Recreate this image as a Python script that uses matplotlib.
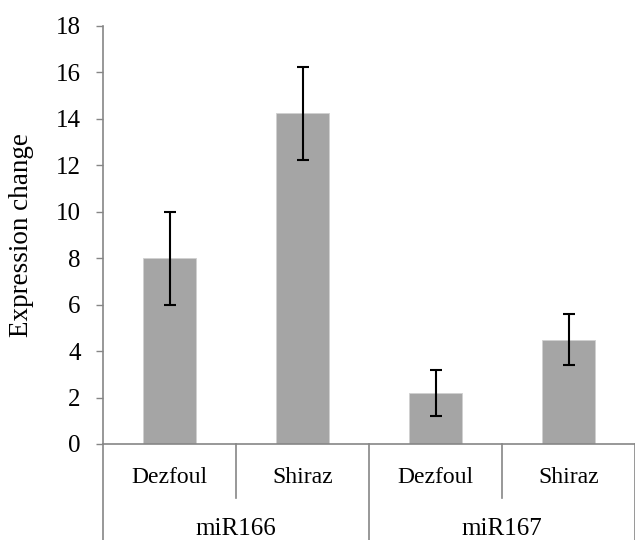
import matplotlib
matplotlib.use("Agg")
import matplotlib.pyplot as plt
import matplotlib.transforms as mtransforms

plt.rcParams["font.family"] = "Liberation Serif"
plt.rcParams["font.size"] = 18

groups = ["miR166", "miR167"]
sites = ["Dezfoul", "Shiraz"]
values = [8.0, 14.25, 2.2, 4.5]
errors = [2.0, 2.0, 1.0, 1.1]
yticks = [0, 2, 4, 6, 8, 10, 12, 14, 16, 18]

axis_grey = "#868686"

fig = plt.figure(figsize=(6.35, 5.4), dpi=100)
ax = fig.add_axes([103 / 635, 1 - 444 / 540, 532 / 635, 418 / 540])

x = list(range(len(values)))
ax.bar(x, values, width=0.4, color="#a5a5a5", edgecolor="#d0d0d0", linewidth=0.6,
       yerr=errors, capsize=4.5, error_kw={"elinewidth": 1.5, "capthick": 1.5, "ecolor": "black"})

ax.set_xlim(-0.5, len(values) - 0.5)
ax.set_ylim(0, 18)
ax.set_yticks(yticks)
ax.tick_params(axis="y", direction="out", length=5, width=1, color=axis_grey, pad=11)
ax.set_xticks([])
for s in ["top", "right"]:
    ax.spines[s].set_visible(False)
for s in ["left", "bottom"]:
    ax.spines[s].set_color(axis_grey)
    ax.spines[s].set_linewidth(1.2)
ax.set_ylabel("Expression change", fontsize=19.5)
ax.yaxis.set_label_coords(-0.13, 0.5)

# two-level category axis
trans = mtransforms.blended_transform_factory(ax.transData, ax.transAxes)
for i in range(len(values) + 1):
    xb = i - 0.5
    bottom = -0.3 if i % 2 == 0 else -0.129
    ax.plot([xb, xb], [0, bottom], color=axis_grey, lw=1.2, transform=trans, clip_on=False)
for i, v in enumerate(values):
    ax.text(i, -0.0933, sites[i % 2], transform=trans, ha="center", va="baseline", fontsize=17)
for g, name in enumerate(groups):
    ax.text(2 * g + 0.5, -0.218, name, transform=trans, ha="center", va="baseline")

fig.savefig("out.png", dpi=100)
